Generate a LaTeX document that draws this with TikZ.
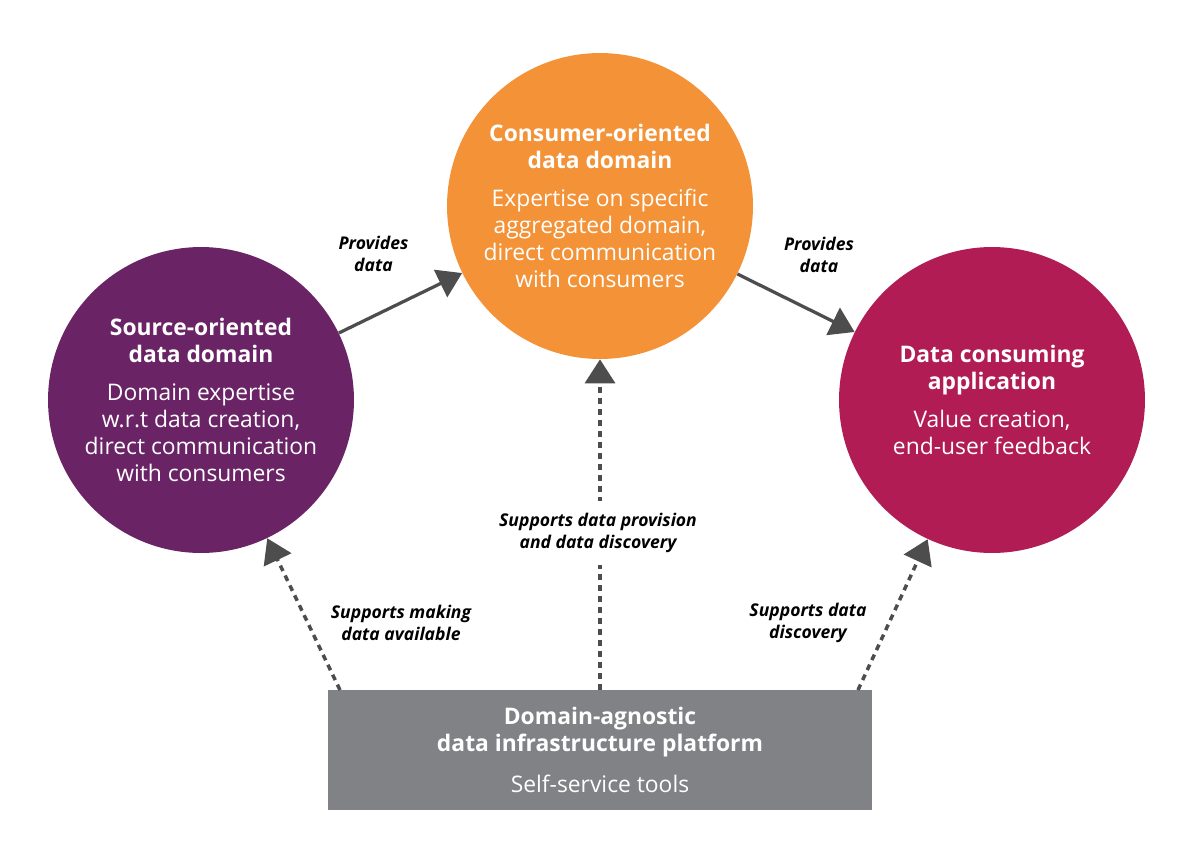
\documentclass[tikz,border=0pt]{standalone}
\usepackage{fontspec}
\setmainfont{Open Sans}
\usepackage{tikz}
\usetikzlibrary{arrows.meta}
\definecolor{srcpurple}{HTML}{6A2466}
\definecolor{consorange}{HTML}{F39237}
\definecolor{appmagenta}{HTML}{B01C53}
\definecolor{platgrey}{HTML}{818285}
\definecolor{arcgrey}{HTML}{4D4D4D}
\tikzset{every picture/.append style={x=0.02cm,y=-0.02cm}}
\tikzset{domain/.style={circle,minimum size=6.12cm,inner sep=0pt,fill=#1,text=white,align=center,font=\fontsize{13pt}{15.4pt}\selectfont}}
\tikzset{platform/.style={rectangle,minimum width=10.88cm,minimum height=2.4cm,inner sep=0pt,fill=platgrey,text=white,align=center,font=\fontsize{13pt}{15.4pt}\selectfont}}
\tikzset{arc/.style={-{Triangle[length=0.48cm,width=0.6cm]}, line width=0.065cm, arcgrey}}
\tikzset{dasharc/.style={arc, line width=0.07cm, dash pattern=on 0.12cm off 0.1cm}}
\tikzset{arclabel/.style={align=center,text=black,font=\fontsize{10pt}{12.5pt}\selectfont\bfseries\itshape}}

\begin{document}
\begin{tikzpicture}
\useasboundingbox (0,0) rectangle (1200,860);
% data domains and the platform
\node (src) at (201,400)[domain=srcpurple]{\textbf{Source-oriented}\\\textbf{data domain}\\[6pt]Domain expertise\\w.r.t data creation,\\direct communication\\with consumers};
\node (cons) at (600,206)[domain=consorange]{\textbf{Consumer-oriented}\\\textbf{data domain}\\[6pt]Expertise on specific\\aggregated domain,\\direct communication\\with consumers};
\node (app) at (992,400)[domain=appmagenta]{\textbf{Data consuming}\\\textbf{application}\\[6pt]Value creation,\\end-user feedback};
\node (plat) at (600,750)[platform]{\textbf{Domain-agnostic}\\\textbf{data infrastructure platform}\\[8pt]Self-service tools};
\coordinate (pl) at (340,690);
\coordinate (pr) at (858,690);
% data flow
\draw[arc] (src)--(cons)node [pos=0.5, xshift=-0.54cm, yshift=0.98cm, arclabel] {Provides\\data};
\draw[arc] (cons)--(app)node [pos=0.5, xshift=0.46cm, yshift=0.96cm, arclabel] {Provides\\data};
% support from the platform
\draw[dasharc] (pl)--(src);
\draw[dasharc] (pr)--(app);
\draw[dasharc] (plat.north)--(cons);
\node (sm) at (401,623)[arclabel]{Supports making\\data available};
\node (sd) at (808,623)[arclabel]{Supports data\\discovery};
\node (sp) at (598,533)[arclabel,fill=white,inner ysep=0.25cm]{Supports data provision\\and data discovery};
\end{tikzpicture}
\end{document}
